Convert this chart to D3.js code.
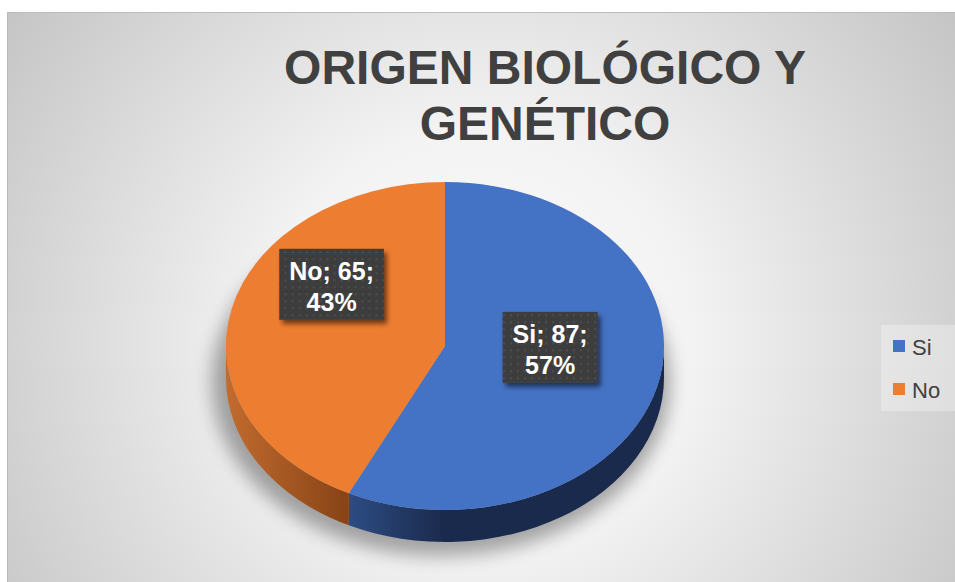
<!DOCTYPE html>
<html>
<head>
<meta charset="utf-8">
<script src="https://cdn.jsdelivr.net/npm/d3@7/dist/d3.min.js"></script>
<style>
  body { margin: 0; background: #ffffff; }
  svg { display: block; font-family: "Liberation Sans", Arial, sans-serif; }
</style>
</head>
<body>
<div id="chart"></div>
<script>
// data
const categories = ["Si", "No"];
const values = [87, 65];
const percentLabels = ["57%", "43%"];
const titleLines = ["ORIGEN BIOLÓGICO Y", "GENÉTICO"];

const topColors = ["#4472c4", "#ed7d31"];
const sideColors = [["#2d4c84", "#1a2a4c"], ["#c26b2e", "#874316"]];

var width = 955, height = 582;

// pie geometry (tilted ellipse + depth)
var cx = 445, cy = 346, rx = 219, ry = 164, depth = 32;
// where Excel put each label: fraction of radius + angle in degrees
var labelPlacement = [{ r: 0.48, angle: 91 }, { r: 0.64, angle: 306 }];

var svg = d3.select("#chart").append("svg")
  .attr("width", width)
  .attr("height", height);

var defs = svg.append("defs");

// background radial gradient
var bg = defs.append("radialGradient")
  .attr("id", "bgGrad")
  .attr("gradientUnits", "userSpaceOnUse")
  .attr("cx", 480).attr("cy", 340).attr("r", 600);
bg.append("stop").attr("offset", 0).attr("stop-color", "#fbfbfb");
bg.append("stop").attr("offset", 0.35).attr("stop-color", "#f3f3f3");
bg.append("stop").attr("offset", 1).attr("stop-color", "#c2c2c2");

// soft shadow under the pie
var blur = defs.append("filter").attr("id", "pieShadow")
  .attr("x", "-30%").attr("y", "-30%").attr("width", "160%").attr("height", "160%");
blur.append("feGaussianBlur").attr("stdDeviation", 9);

// shadow for the label boxes
var boxShadow = defs.append("filter").attr("id", "boxShadow")
  .attr("x", "-20%").attr("y", "-20%").attr("width", "150%").attr("height", "160%");
boxShadow.append("feDropShadow")
  .attr("dx", 3).attr("dy", 4).attr("stdDeviation", 2.5)
  .attr("flood-color", "#000").attr("flood-opacity", 0.55);

// dotted texture of the label boxes
var pat = defs.append("pattern")
  .attr("id", "dots")
  .attr("patternUnits", "userSpaceOnUse")
  .attr("width", 7).attr("height", 7);
pat.append("rect").attr("width", 7).attr("height", 7).attr("fill", "#3d3d3d");
pat.append("rect").attr("x", 2).attr("y", 2).attr("width", 2).attr("height", 2).attr("fill", "#4e4e4e");

// chart area
svg.append("rect")
  .attr("x", 7.5).attr("y", 12.5)
  .attr("width", 960).attr("height", 600)
  .attr("fill", "url(#bgGrad)")
  .attr("stroke", "#bcbcbc");

// title
svg.append("text")
  .attr("x", 545)
  .attr("text-anchor", "middle")
  .attr("font-size", 48)
  .attr("font-weight", "bold")
  .attr("fill", "#404040")
  .selectAll("tspan")
  .data(titleLines)
  .enter()
  .append("tspan")
  .attr("x", 545)
  .attr("y", function (d, i) { return 84 + i * 56; })
  .text(function (d) { return d; });

var pie = d3.pie().sort(null).value(function (d) { return d; });
var arcs = pie(values);

function pt(a, r, dy) {
  r = r == null ? 1 : r;
  return [cx + rx * r * Math.sin(a), cy - ry * r * Math.cos(a) + (dy || 0)];
}

// shadow
svg.append("ellipse")
  .attr("cx", cx - 4).attr("cy", cy + depth + 4)
  .attr("rx", rx + 10).attr("ry", ry + 10)
  .attr("fill", "#000")
  .attr("opacity", 0.33)
  .attr("filter", "url(#pieShadow)");

// side walls (front half only)
var sides = svg.append("g");
arcs.forEach(function (d, i) {
  var s = Math.max(d.startAngle, Math.PI / 2);
  var e = Math.min(d.endAngle, Math.PI * 1.5);
  if (s >= e) return;
  var p0 = pt(s), p1 = pt(e), q0 = pt(s, 1, depth), q1 = pt(e, 1, depth);
  var large = e - s > Math.PI ? 1 : 0;
  var xs = [p0[0], p1[0]];
  var g = defs.append("linearGradient")
    .attr("id", "side" + i)
    .attr("gradientUnits", "userSpaceOnUse")
    .attr("x1", d3.min(xs)).attr("x2", d3.max(xs))
    .attr("y1", 0).attr("y2", 0);
  if (i === 0) {
    g.append("stop").attr("offset", 0).attr("stop-color", sideColors[i][0]);
    g.append("stop").attr("offset", 0.3).attr("stop-color", sideColors[i][1]);
    g.append("stop").attr("offset", 1).attr("stop-color", sideColors[i][1]);
  } else {
    g.append("stop").attr("offset", 0).attr("stop-color", sideColors[i][0]);
    g.append("stop").attr("offset", 1).attr("stop-color", sideColors[i][1]);
  }
  sides.append("path")
    .attr("d", "M" + p0 + "A" + rx + "," + ry + " 0 " + large + " 1 " + p1 +
      "L" + q1 + "A" + rx + "," + ry + " 0 " + large + " 0 " + q0 + "Z")
    .attr("fill", "url(#side" + i + ")");
});

// top faces
svg.append("g")
  .selectAll("path")
  .data(arcs)
  .enter()
  .append("path")
  .attr("d", function (d) {
    var p0 = pt(d.startAngle), p1 = pt(d.endAngle);
    var large = d.endAngle - d.startAngle > Math.PI ? 1 : 0;
    return "M" + cx + "," + cy + "L" + p0 + "A" + rx + "," + ry + " 0 " + large + " 1 " + p1 + "Z";
  })
  .attr("fill", function (d, i) { return topColors[i]; });

// data labels
var labels = svg.append("g")
  .selectAll("g")
  .data(arcs)
  .enter()
  .append("g")
  .attr("transform", function (d, i) {
    var lp = labelPlacement[i];
    return "translate(" + pt(lp.angle * Math.PI / 180, lp.r) + ")";
  });

labels.each(function (d, i) {
  var g = d3.select(this);
  var lines = [categories[i] + "; " + values[i] + ";", percentLabels[i]];
  var rect = g.append("rect").attr("fill", "url(#dots)").attr("filter", "url(#boxShadow)");
  var txt = g.append("text")
    .attr("text-anchor", "middle")
    .attr("font-size", 25)
    .attr("font-weight", "bold")
    .attr("fill", "#ffffff");
  txt.selectAll("tspan")
    .data(lines)
    .enter()
    .append("tspan")
    .attr("x", 0)
    .attr("y", function (l, j) { return -4.5 + j * 31; })
    .text(function (l) { return l; });
  var w = txt.node().getBBox().width + 20;
  var h = 71;
  rect.attr("x", -w / 2).attr("y", -h / 2).attr("width", w).attr("height", h);
});

// legend
var legend = svg.append("g");
legend.append("rect")
  .attr("x", 881).attr("y", 325)
  .attr("width", 75).attr("height", 86)
  .attr("fill", "#ffffff").attr("opacity", 0.3);

var items = legend.selectAll("g.item")
  .data(categories)
  .enter()
  .append("g")
  .attr("class", "item")
  .attr("transform", function (d, i) { return "translate(893," + (340 + i * 43) + ")"; });
items.append("rect")
  .attr("width", 12).attr("height", 12)
  .attr("fill", function (d, i) { return topColors[i]; });
items.append("text")
  .attr("x", 19).attr("y", 14.5)
  .attr("font-size", 22)
  .attr("fill", "#404040")
  .text(function (d) { return d; });
</script>
</body>
</html>
